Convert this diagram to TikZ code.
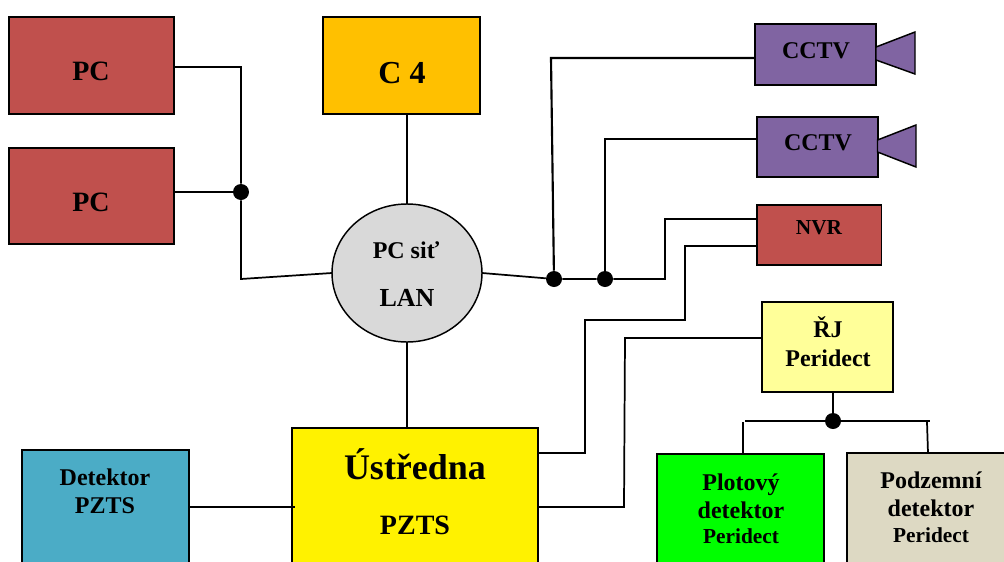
\documentclass[tikz,border=0pt]{standalone}
\usepackage{fontspec}
\setmainfont{Liberation Serif}
\usepackage{xcolor}
\usetikzlibrary{shapes.geometric}
\definecolor{pcred}{HTML}{C0504D}
\definecolor{cfourorange}{HTML}{FFC000}
\definecolor{cctvpurple}{HTML}{8064A2}
\definecolor{langray}{HTML}{D9D9D9}
\definecolor{rjyellow}{HTML}{FFFF99}
\definecolor{plotgreen}{HTML}{00FF00}
\definecolor{podzemtan}{HTML}{DDD9C3}
\definecolor{detblue}{HTML}{4BACC6}
\newcommand{\sizedfont}[1]{\fontsize{#1}{#1}\selectfont\bfseries}

\begin{document}
\begin{tikzpicture}[x=0.75pt, y=-0.75pt]
\tikzset{box/.style={draw=black, line width=1.1pt, inner sep=0pt, outer sep=0pt},
  wire/.style={draw=black, line width=1.3pt},
  dot/.style={circle, fill=black, inner sep=0pt, minimum size=12pt},
  lbl/.style={align=center, inner sep=0pt, text=black}}
\path[use as bounding box, clip] (0,0) rectangle (1004,561);
% boxes
\node[box, fill=pcred, minimum width=123.75pt, minimum height=72.75pt] (pc1) at (91.5,65.5) {};
\node[box, fill=pcred, minimum width=123.75pt, minimum height=72pt] (pc2) at (91.5,196) {};
\node[box, fill=cfourorange, minimum width=117.75pt, minimum height=72.75pt] (cfour) at (401.5,65.5) {};
\node[box, fill=cctvpurple, minimum width=90.75pt, minimum height=45.75pt] (cctv1) at (815.5,54.5) {};
\node[box, fill=cctvpurple, minimum width=90.75pt, minimum height=45pt] (cctv2) at (817.5,147) {};
\node[box, fill=pcred, minimum width=93.4pt, minimum height=45pt] (nvr) at (819.25,235) {};
\node[box, fill=rjyellow, minimum width=98.25pt, minimum height=67.5pt] (rj) at (827.5,347) {};
\node[box, fill=plotgreen, minimum width=125.25pt, minimum height=112.5pt] (plot) at (740.5,529) {};
\node[box, fill=podzemtan, minimum width=135pt, minimum height=112.5pt] (podzem) at (937,528) {};
\node[box, fill=yellow, minimum width=184.5pt, minimum height=135pt] (ustredna) at (415,518) {};
\node[box, fill=detblue, minimum width=125.25pt, minimum height=112.5pt] (detektor) at (105.5,525) {};
\node[ellipse, box, fill=langray, minimum width=112.5pt, minimum height=103.5pt] (lan) at (407,273) {};
% camera lenses
\draw[box, fill=cctvpurple] (876,47) -- (915,32) -- (915,74) -- (876,60) -- cycle;
\draw[box, fill=cctvpurple] (877.5,140) -- (916,125) -- (916,167) -- (877.5,152) -- cycle;
% labels
\node[lbl, font=\sizedfont{21}] (pc1t) at (91,71) {PC};
\node[lbl, font=\sizedfont{21}] (pc2t) at (91,202) {PC};
\node[lbl, font=\sizedfont{24}] (cfourt) at (402,73) {C 4};
\node[lbl, font=\sizedfont{18}] (cctv1t) at (816,51) {CCTV};
\node[lbl, font=\sizedfont{18}] (cctv2t) at (818,143) {CCTV};
\node[lbl, font=\sizedfont{16}] (nvrt) at (819,228) {NVR};
\node[lbl, font=\sizedfont{18}] (lant1) at (406,250) {PC siť};
\node[lbl, font=\sizedfont{19.5}] (lant2) at (407,298) {LAN};
\node[lbl, font=\sizedfont{18}] (rjt) at (828,342) {ŘJ\\[4pt]Peridect};
\node[lbl, font=\sizedfont{18}] (plott) at (741,496) {Plotový\\[3pt]detektor};
\node[lbl, font=\sizedfont{16}] (plott2) at (741,536) {Peridect};
\node[lbl, font=\sizedfont{18}] (podzemt) at (931,494) {Podzemní\\[3pt]detektor};
\node[lbl, font=\sizedfont{16}] (podzemt2) at (931,535) {Peridect};
\node[lbl, font=\sizedfont{27}] (ustrednat) at (415,464) {Ústředna};
\node[lbl, font=\sizedfont{21}] (pztst) at (415,525) {PZTS};
\node[lbl, font=\sizedfont{18}] (detektort) at (105,491) {Detektor\\[3pt]PZTS};
% junctions
\node[dot] (jpc) at (241,192) {};
\node[dot] (jcam1) at (554,279) {};
\node[dot] (jcam2) at (605,279) {};
\node[dot] (jrj) at (833,421) {};
\coordinate (busl) at (745,421);
\coordinate (busr) at (930,421);
% connectors
\draw[wire] (pc1.east |- 0,67) -- (241,67) -- (jpc) -- (241,279) -- (lan.west);
\draw[wire] (pc2.east |- jpc) -- (jpc);
\draw[wire] (cfour.south -| lan.north) -- (lan.north);
\draw[wire] (lan.south) -- (ustredna.north -| lan.south);
\draw[wire] (lan.east) -- (jcam1) -- (jcam2) -- (665,279) -- (665,219) -- (nvr.west |- 0,219);
\draw[wire, line width=1.6pt] (jcam1) -- (551,58) -- (cctv1.west |- 0,58);
\draw[wire, line width=1.6pt] (jcam2) -- (605,139) -- (cctv2.west |- 0,139);
\draw[wire] (ustredna.east |- 0,453) -- (585,453) -- (585,320) -- (685,320) -- (685,246) -- (nvr.west |- 0,246);
\draw[wire] (ustredna.east |- 0,507) -- (624,507) -- (625,338) -- (rj.west |- 0,338);
\draw[wire, line width=1.8pt] (rj.south -| jrj) -- (jrj);
\draw[wire] (busl) -- (jrj) -- (busr);
\draw[wire] (743,422) -- (743,454);
\draw[wire] (927,422) -- (928,453);
\draw[wire] (detektor.east |- 0,507) -- (295,507);
\end{tikzpicture}
\end{document}
